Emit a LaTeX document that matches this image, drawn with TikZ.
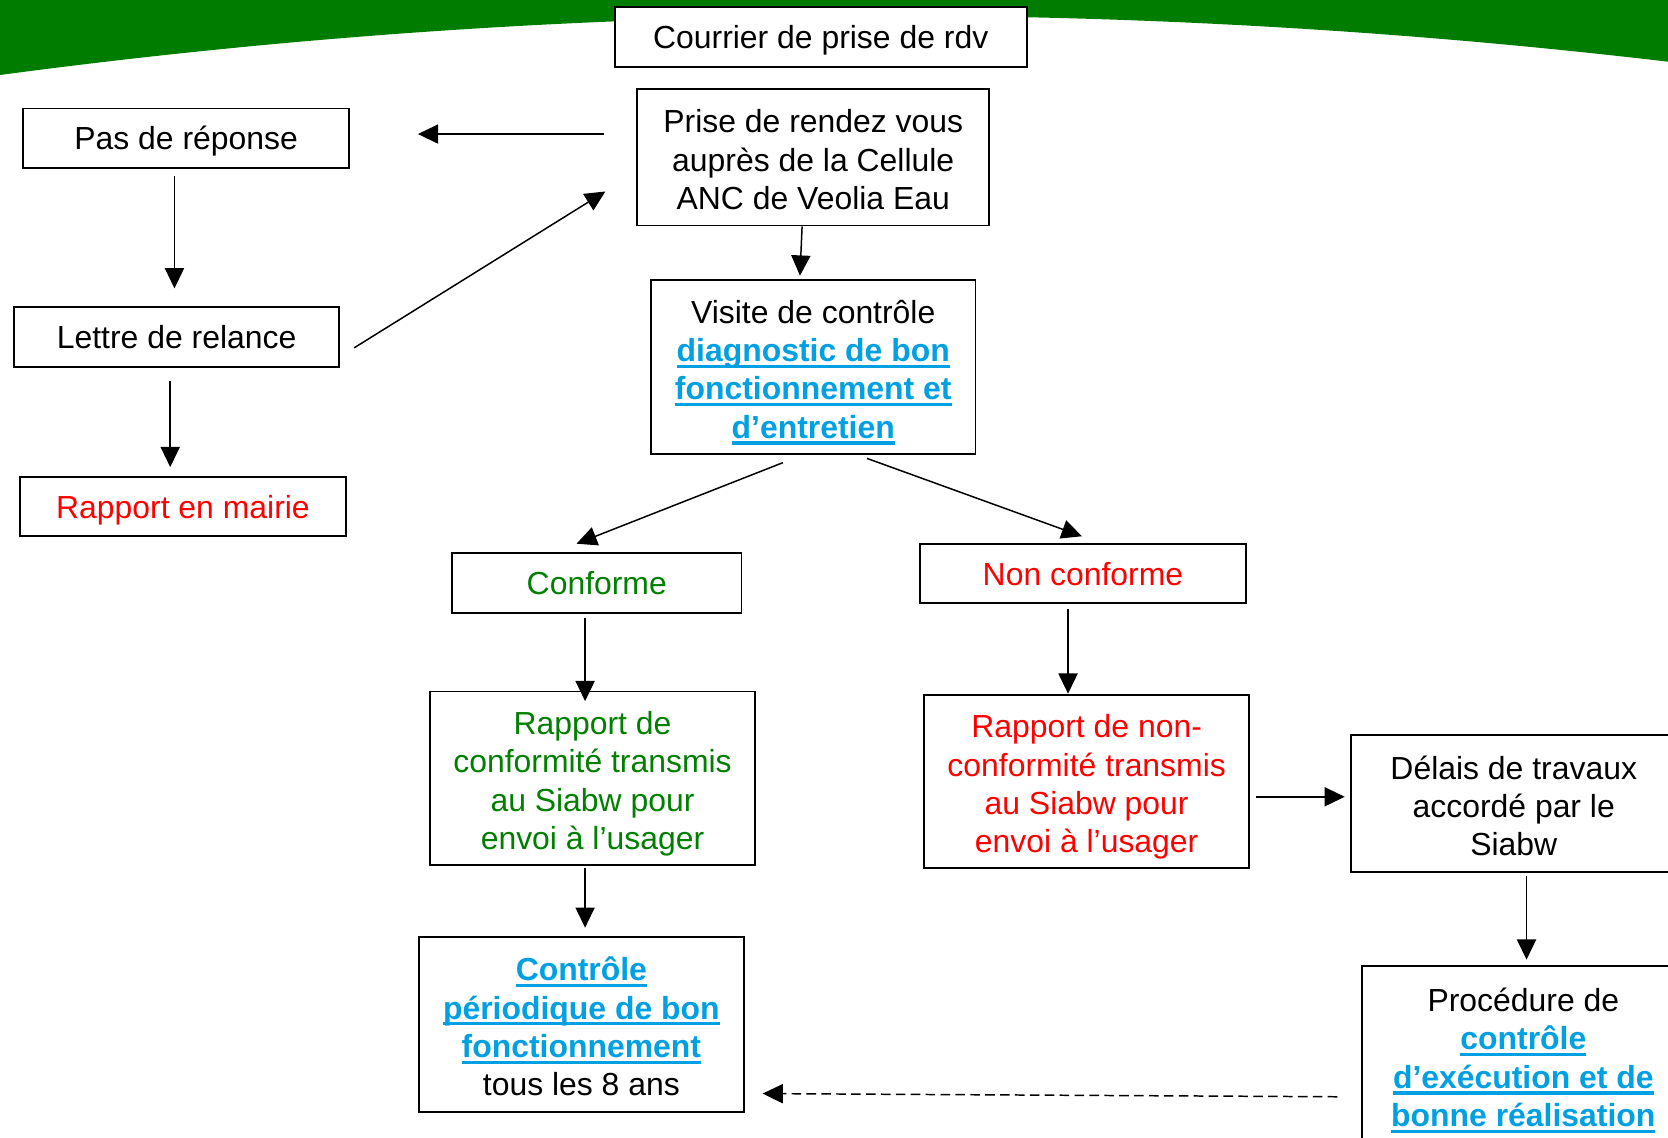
\documentclass[tikz,border=0pt]{standalone}
\usepackage{fontspec}
\setmainfont{Liberation Sans}
\usetikzlibrary{arrows.meta}
\definecolor{bannergreen}{RGB}{0,125,0}
\definecolor{txtgreen}{RGB}{0,128,0}
\definecolor{txtred}{RGB}{255,0,0}
\definecolor{linkblue}{RGB}{0,160,227}
\newsavebox\lkbox
\newcommand\lk[1]{{\color{linkblue}\bfseries\sbox\lkbox{#1}\rlap{\rule[-6pt]{\wd\lkbox}{3pt}}\usebox\lkbox}}
\newcommand\boxstrut{\rule[-7pt]{0pt}{36pt}}
\newcommand\ts{\rule[-7pt]{0pt}{40pt}}
\newcommand\bs{\rule[-7pt]{0pt}{7pt}}
\begin{document}
\begin{tikzpicture}[x=1pt,y=-1pt,
  box/.style={draw, fill=white, line width=1.8pt, align=center, inner sep=0pt,
    font=\fontsize{30}{36}\selectfont,
    execute at begin node=\boxstrut, execute at end node=\boxstrut},
  mbox/.style={box, execute at begin node={}, execute at end node={}},
  arr/.style={line width=1.4pt, -{Triangle[length=19pt,width=18pt]}},
  dasharr/.style={arr, dash pattern=on 9pt off 5pt}]
\useasboundingbox (0,0) rectangle (1568,1069);
\fill[white] (0,0) rectangle (1568,1069);
\fill[bannergreen] (0,0) -- (0,70.5) .. controls (522.7,0.7) and (1045.3,-3.5) .. (1568,58) -- (1568,0) -- cycle;

\node[box, minimum width=387pt, minimum height=56pt] (courrier) at (771.5,35) {Courrier de prise de rdv};
\node[mbox, minimum width=331pt, minimum height=128pt] (prise) at (764.5,148) {\ts Prise de rendez vous\\auprès de la Cellule\\ANC de Veolia Eau\bs};
\node[box, minimum width=306pt, minimum height=56pt] (pas) at (175,130) {Pas de réponse};
\node[box, minimum width=306pt, minimum height=56pt] (lettre) at (166,317) {Lettre de relance};
\node[box, minimum width=306pt, minimum height=56pt, text=txtred] (mairie) at (172,476) {Rapport en mairie};
\node[mbox, minimum width=305pt, minimum height=164pt] (visite) at (764.5,345) {\ts Visite de contrôle\\\lk{diagnostic de bon}\\\lk{fonctionnement et}\\\lk{d’entretien}\bs};
\node[box, minimum width=272pt, minimum height=56pt, text=txtgreen] (conforme) at (561,548) {Conforme};
\node[box, minimum width=306pt, minimum height=56pt, text=txtred] (nonconf) at (1018,539) {Non conforme};
\node[mbox, minimum width=306pt, minimum height=163pt, text=txtgreen] (rconf) at (557,731.5) {\ts Rapport de\\conformité transmis\\au Siabw pour\\envoi à l’usager\bs};
\node[mbox, minimum width=305pt, minimum height=163pt, text=txtred] (rnon) at (1021.5,734.5) {\ts Rapport de non-\\conformité transmis\\au Siabw pour\\envoi à l’usager\bs};
\node[mbox, minimum width=306pt, minimum height=129pt] (delais) at (1423,755.5) {\ts Délais de travaux\\accordé par le\\Siabw\bs};
\node[mbox, minimum width=304pt, minimum height=168pt] (proc) at (1432,992) {\ts Procédure de\\\lk{contrôle}\\\lk{d’exécution et de}\\\lk{bonne réalisation}\bs};
\node[mbox, minimum width=305pt, minimum height=164pt] (ctrl) at (546.5,963) {\ts\lk{Contrôle}\\\lk{périodique de bon}\\\lk{fonctionnement}\\tous les 8 ans\bs};

\coordinate (r126) at (0,126);
\coordinate (c164) at (164,0);
\coordinate (c160) at (160,0);
\coordinate (c550) at (550,0);
\coordinate (c1004) at (1004,0);
\coordinate (r749) at (0,749);
\coordinate (c1435) at (1435,0);

\draw[arr, shorten <=30pt, shorten >=64pt] (prise.west |- r126) -- (pas.east |- r126);
\draw[arr, shorten <=7pt, shorten >=17pt] (pas.south -| c164) -- (lettre.north -| c164);
\draw[arr] ([shift={(13,10)}]lettre.east) -- ([shift={(-29,32)}]prise.west);
\draw[arr, shorten <=12pt, shorten >=8pt] (lettre.south -| c160) -- (mairie.north -| c160);
\draw[arr] ([shift={(-10.5,0)}]prise.south) -- ([shift={(-12.5,-3)}]visite.north);
\draw[arr] ([shift={(-28.5,7)}]visite.south) -- ([shift={(-19,-8)}]conforme.north);
\draw[arr] ([shift={(50.5,3)}]visite.south) -- ([shift={(-1,-6)}]nonconf.north);
\draw[arr, shorten <=4pt, shorten >=-10pt] (conforme.south -| c550) -- (rconf.north -| c550);
\draw[arr, shorten <=5pt] (nonconf.south -| c1004) -- (rnon.north -| c1004);
\draw[arr, shorten <=6pt, shorten >=5pt] (rnon.east |- r749) -- (delais.west |- r749);
\draw[arr, shorten <=3pt, shorten >=5pt] (delais.south -| c1435) -- (proc.north -| c1435);
\draw[arr, shorten <=2pt, shorten >=8pt] (rconf.south -| c550) -- (ctrl.north -| c550);
\draw[dasharr] ([shift={(-22,39)}]proc.west) -- ([shift={(17,65)}]ctrl.east);
\end{tikzpicture}
\end{document}
